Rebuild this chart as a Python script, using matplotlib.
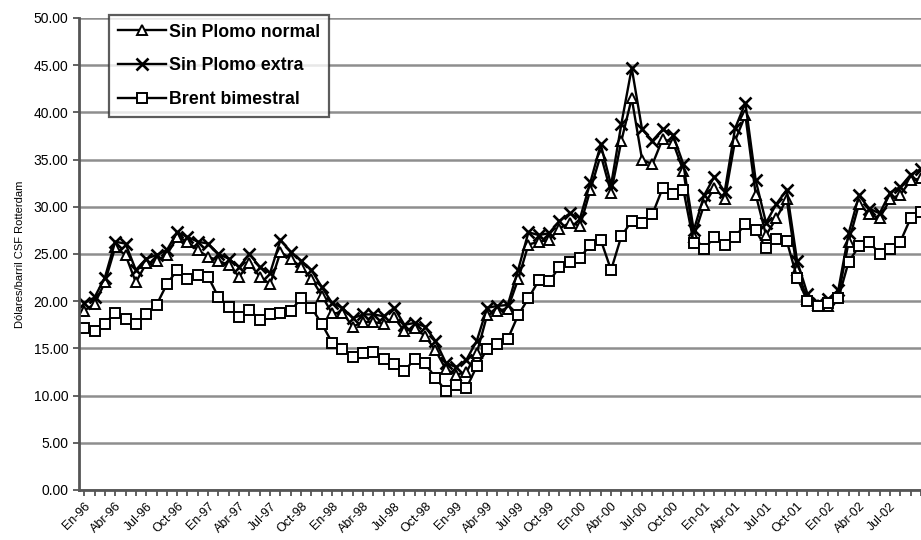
import matplotlib
matplotlib.use('Agg')
import matplotlib.pyplot as plt
import matplotlib.transforms as mtransforms

plt.rcParams['font.family'] = ['Liberation Sans', 'DejaVu Sans']

# monthly data, En-96 .. Oct-02 (last point runs off the right edge)
sin_plomo_normal = [
    19.0, 19.7, 22.0, 25.7, 24.9, 22.0, 24.0, 24.3, 24.9, 26.8, 26.3, 25.4,
    24.7, 24.3, 23.8, 22.6, 24.0, 22.6, 21.8, 25.2, 24.5, 23.6, 22.4, 20.6,
    18.7, 18.8, 17.3, 17.8, 17.8, 17.6, 18.3, 16.8, 17.2, 16.3, 14.8, 12.8,
    12.2, 12.5, 14.5, 18.5, 19.0, 19.2, 22.3, 26.0, 26.3, 26.5, 27.7, 28.3,
    28.0, 31.8, 35.5, 31.5, 37.0, 41.5, 35.0, 34.5, 37.2, 36.8, 33.8, 26.8,
    30.2, 32.0, 30.8, 37.0, 39.7, 31.3, 27.0, 28.8, 30.8, 23.3, 20.2, 19.6,
    19.5, 20.6, 26.3, 30.3, 29.2, 28.8, 30.8, 31.3, 32.8, 33.0,
]
sin_plomo_extra = [
    19.8, 20.4, 22.5, 26.3, 26.1, 23.3, 24.5, 24.9, 25.4, 27.3, 26.8, 26.3,
    26.1, 25.0, 24.5, 23.6, 25.0, 23.6, 23.0, 26.5, 25.2, 24.3, 23.3, 21.5,
    19.8, 19.3, 18.2, 18.6, 18.6, 18.4, 19.3, 17.5, 17.7, 17.3, 15.8, 13.5,
    13.0, 13.8, 15.8, 19.3, 19.5, 19.6, 23.3, 27.3, 27.0, 27.2, 28.5, 29.3,
    28.8, 32.6, 36.6, 32.3, 38.8, 44.7, 38.2, 37.0, 38.2, 37.6, 34.5, 27.5,
    31.2, 33.2, 31.6, 38.3, 41.0, 32.8, 28.3, 30.3, 31.8, 24.3, 20.8, 19.8,
    20.2, 21.2, 27.2, 31.2, 29.8, 29.3, 31.5, 32.1, 33.4, 34.0,
]
brent_bimestral = [
    17.2, 16.8, 17.6, 18.8, 18.1, 17.6, 18.6, 19.6, 21.8, 23.3, 22.4, 22.8,
    22.6, 20.4, 19.4, 18.3, 19.1, 18.0, 18.6, 18.8, 19.0, 20.3, 19.3, 17.6,
    15.6, 14.9, 14.1, 14.5, 14.6, 13.9, 13.3, 12.6, 13.9, 13.4, 11.9, 10.5,
    11.1, 10.8, 13.1, 14.9, 15.5, 16.0, 18.5, 20.3, 22.2, 22.1, 23.6, 24.2,
    24.6, 26.0, 26.5, 23.3, 26.9, 28.5, 28.3, 29.2, 32.0, 31.4, 31.8, 26.2,
    25.5, 26.8, 26.0, 26.8, 28.2, 27.5, 25.6, 26.6, 26.4, 22.5, 20.0, 19.5,
    19.8, 20.3, 24.2, 25.8, 26.3, 25.0, 25.5, 26.3, 28.8, 29.5,
]
tick_labels = ['En-96', 'Abr-96', 'Jul-96', 'Oct-96', 'En-97', 'Abr-97', 'Jul-97',
               'Oct-98', 'En-98', 'Abr-98', 'Jul-98', 'Oct-98', 'En-99', 'Abr-99',
               'Jul-99', 'Oct-99', 'En-00', 'Abr-00', 'Jul-00', 'Oct-00', 'En-01',
               'Abr-01', 'Jul-01', 'Oct-01', 'En-02', 'Abr-02', 'Jul-02']

x = list(range(len(brent_bimestral)))

fig = plt.figure(figsize=(9.21, 5.4), dpi=100)
ax = fig.add_axes([0.0858, 0.0926, 0.9142, 0.8741])

ax.yaxis.grid(True, color='#8e8e8e', linewidth=1.8)
ax.set_axisbelow(True)

ax.plot(x, sin_plomo_normal, color='black', linewidth=1.7, marker='^',
        markersize=7, markerfacecolor='white', markeredgecolor='black',
        markeredgewidth=1.4, label='Sin Plomo normal')
ax.plot(x, sin_plomo_extra, color='black', linewidth=1.7, marker='x',
        markersize=8, markeredgewidth=1.9, label='Sin Plomo extra')
ax.plot(x, brent_bimestral, color='black', linewidth=1.7, marker='s',
        markersize=7, markerfacecolor='white', markeredgecolor='black',
        markeredgewidth=1.4, label='Brent bimestral')

ax.set_ylim(0, 50)
ax.set_yticks(range(0, 51, 5))
ax.set_yticklabels([f'{v:.2f}' for v in range(0, 51, 5)], fontsize=10)
ax.set_xlim(-0.5, 80.1)
ax.set_xticks(range(0, 3 * len(tick_labels), 3))
ax.set_xticklabels(tick_labels, rotation=45, ha='right', rotation_mode='anchor',
                   fontsize=9)
# labels sit a little left of their tick, as in the original
shift = mtransforms.ScaledTranslation(-0.06, 0, fig.dpi_scale_trans)
for lbl in ax.get_xticklabels():
    lbl.set_transform(lbl.get_transform() + shift)
ax.set_xticks(x, minor=True)
ax.tick_params(axis='x', which='both', length=4, width=1.3, color='#555555')
ax.tick_params(axis='y', length=4, width=1.3, color='#555555')

for side in ['top', 'right']:
    ax.spines[side].set_visible(False)
for side in ['left', 'bottom']:
    ax.spines[side].set_color('#555555')
    ax.spines[side].set_linewidth(2)

ax.set_ylabel('Dólares/barril CSF Rotterdam', fontsize=8, labelpad=6)

leg = ax.legend(loc='upper left', bbox_to_anchor=(0.036, 1.007), frameon=True,
                fancybox=False, edgecolor='#333333', handlelength=2.7,
                prop={'weight': 'bold', 'size': 12.8}, borderpad=0.5,
                labelspacing=0.95, handletextpad=0.15, borderaxespad=0)
leg.get_frame().set_linewidth(1.6)

fig.savefig('out.png', dpi=100)
